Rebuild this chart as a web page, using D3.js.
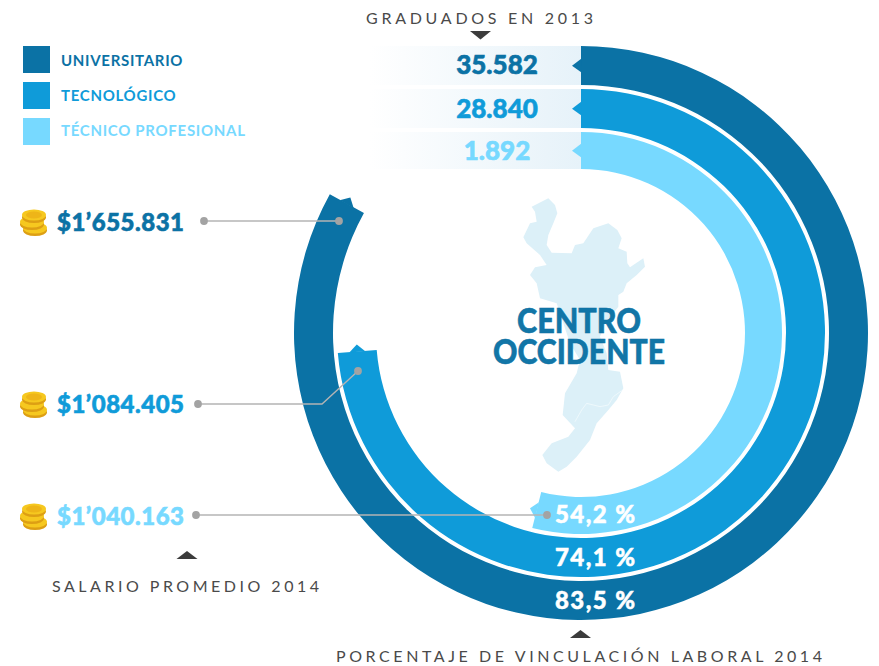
<!DOCTYPE html>
<html><head><meta charset="utf-8">
<script src="https://cdn.jsdelivr.net/npm/d3@7"></script>
<style>html,body{margin:0;background:#fff}svg{display:block}text{font-family:Lato,sans-serif}</style>
</head><body><svg id="c" width="879" height="666"></svg>
<script>
const categories = ["UNIVERSITARIO","TECNOLÓGICO","TÉCNICO PROFESIONAL"];
const graduados = ["35.582","28.840","1.892"];
const vinculacion = [83.5,74.1,54.2];
const salarios = [1655831,1084405,1040163];
const salarioLabels = ["$1’655.831","$1’084.405","$1’040.163"];
const colors = ["#0b72a5","#0f9bd9","#77d9ff"];
const mapOutline = [[155,80],[205,55],[225,75],[232,100],[220,130],[205,165],[200,195],[215,218],[275,220],[285,195],[310,190],[340,145],[385,130],[412,150],[425,175],[415,205],[440,215],[442,250],[450,262],[490,235],[495,260],[470,285],[440,310],[430,335],[415,345],[415,380],[400,400],[380,420],[360,470],[380,520],[385,570],[420,575],[430,625],[410,660],[385,690],[350,730],[330,780],[290,830],[260,860],[235,875],[200,850],[187,825],[215,790],[265,770],[285,745],[248,705],[255,640],[290,580],[300,540],[270,490],[250,430],[230,370],[180,355],[170,310],[150,285],[165,262],[200,255],[180,225],[140,190],[130,172],[150,130],[170,125],[165,95]];
const mapBorder = [[285,725],[305,690],[320,670],[360,680],[385,675],[400,650],[425,632]];

const svg = d3.select("#c");
const cx = 581, cy = 333;
const radii = [[248,287],[205,244],[164,201]];
const bandY = [46,89,132], bandH = [39,39,37];
const angle = d3.scaleLinear().domain([0,100]).range([0,358*Math.PI/180]);
const polar = (r,a)=>[cx+r*Math.sin(a), cy-r*Math.cos(a)];

const defs = svg.append("defs");
const grad = defs.append("linearGradient").attr("id","fade");
grad.append("stop").attr("offset",0).attr("stop-color","#e6f2f9").attr("stop-opacity",0);
grad.append("stop").attr("offset",1).attr("stop-color","#e6f2f9");

// map
const mapX = d3.scaleLinear().domain([0,3]).range([480,481]);
const mapY = d3.scaleLinear().domain([0,3]).range([180,181]);
const mapLine = d3.line().x(d=>mapX(d[0])).y(d=>mapY(d[1])).curve(d3.curveLinearClosed);
svg.append("path").attr("d",mapLine(mapOutline)).attr("fill","#dcf0f8");
svg.append("path").attr("d",d3.line().x(d=>mapX(d[0])).y(d=>mapY(d[1]))(mapBorder)).attr("fill","none").attr("stroke","#f2fafd").attr("stroke-width",.8);

// bands
svg.selectAll("rect.band").data(categories).join("rect").attr("class","band")
  .attr("x",370).attr("width",211).attr("y",(d,i)=>bandY[i]).attr("height",(d,i)=>bandH[i]).attr("fill","url(#fade)");

// rings
const arc = d3.arc().startAngle(0);
vinculacion.forEach((v,i)=>{
  const [r0,r1] = radii[i], rm=(r0+r1)/2, a=angle(v), c=colors[i];
  svg.append("path").attr("transform",`translate(${cx},${cy})`).attr("fill",c)
    .attr("d",arc({innerRadius:r0,outerRadius:r1,endAngle:a}));
  svg.append("polygon").attr("fill",c).attr("points",[polar(rm-8,a-.002),polar(rm,a+7/rm),polar(rm+8,a-.002)].join(" "));
  svg.append("polygon").attr("fill",c).attr("points",[polar(rm-7,.002),polar(rm,-9/rm),polar(rm+7,.002)].join(" "));
});

// graduates
const numStyle = s=>s.attr("font-weight",900).attr("text-anchor","middle").attr("dominant-baseline","central");
svg.selectAll("text.grad").data(graduados).join("text").attr("class","grad").call(numStyle)
  .attr("x",497).attr("y",(d,i)=>[64,108,150][i]).attr("font-size",26).attr("fill",(d,i)=>colors[i])
  .attr("stroke",(d,i)=>colors[i]).attr("stroke-width",.6).text(d=>d);

// percent labels
svg.selectAll("text.pct").data(vinculacion).join("text").attr("class","pct").call(numStyle)
  .attr("x",595).attr("y",(d,i)=>[599,556,513.5][i]).attr("font-size",24).attr("fill","#fff")
  .attr("stroke","#fff").attr("stroke-width",.5).attr("textLength",80)
  .text(d=>String(d).replace(".",",")+" %");

// centre title
const title = svg.append("text").attr("text-anchor","middle").attr("font-size",34).attr("font-weight",900)
  .attr("fill","#0b72a5").attr("fill-opacity",.97).attr("stroke","#0b72a5").attr("stroke-width",.6);
[["CENTRO",333,124],["OCCIDENTE",364,172]].forEach(t=>{
  title.append("tspan").attr("x",579).attr("y",t[1]).attr("textLength",t[2]).attr("lengthAdjust","spacingAndGlyphs").text(t[0]);
});

// legend
const legY = d3.scaleBand().domain(categories).range([46,154]);
categories.forEach((c,i)=>{
  svg.append("rect").attr("x",23).attr("y",legY(c)).attr("width",27).attr("height",27).attr("fill",colors[i]);
  svg.append("text").attr("x",61).attr("y",[60,95,130][i]).attr("dominant-baseline","central").attr("font-size",15)
    .attr("font-weight",700).attr("letter-spacing",.7).attr("fill",colors[i]).text(c);
});

// leaders
const leaders = [[[204,221],[339,221]],[[198,404],[322,404],[358,371]],[[196,515],[547,515]]];
leaders.forEach(p=>{
  svg.append("path").attr("d",d3.line()(p)).attr("fill","none").attr("stroke","#b4b4b4").attr("stroke-width",1.4);
  [p[0],p[p.length-1]].forEach(q=>svg.append("circle").attr("cx",q[0]).attr("cy",q[1]).attr("r",3.9).attr("fill","#a3a3a3"));
});

// salaries + coins
function coin(g,x,y){
  g.append("ellipse").attr("cx",x).attr("cy",y+2.5).attr("rx",12).attr("ry",5.5).attr("fill","#dd9f14");
  g.append("ellipse").attr("cx",x).attr("cy",y).attr("rx",12).attr("ry",5.5).attr("fill","#f6c81f");
}
salarios.forEach((s,i)=>{
  const y=[222,404,516][i];
  const g=svg.append("g");
  coin(g,35,y+6); coin(g,32,y); coin(g,34,y-7);
  g.append("ellipse").attr("cx",34).attr("cy",y-7).attr("rx",8).attr("ry",3.5).attr("fill","#eeb518");
  svg.append("text").attr("x",57).attr("y",y-1).attr("dominant-baseline","central").attr("font-size",24).attr("font-weight",900)
    .attr("fill",colors[i]).attr("stroke",colors[i]).attr("stroke-width",.6).attr("textLength",127).text(salarioLabels[i]);
});

// titles
const tri = (x,y,up)=>svg.append("polygon").attr("fill","#3c3c3c")
  .attr("points",up?`${x-10.5},${y+8} ${x},${y} ${x+10.5},${y+8}`:`${x-10.5},${y} ${x},${y+8.5} ${x+10.5},${y}`);
tri(480.5,31,false); tri(580.5,630,true); tri(187,551,true);
[["GRADUADOS EN 2013",366,17,227],["SALARIO PROMEDIO 2014",52,585,267],["PORCENTAJE DE VINCULACIÓN LABORAL 2014",336,655,486]].forEach(t=>{
  svg.append("text").attr("x",t[1]).attr("y",t[2]).attr("dominant-baseline","central").attr("font-size",16).attr("font-weight",400)
    .attr("fill","#4a4a4a").attr("textLength",t[3]).text(t[0]);
});
</script></body></html>
